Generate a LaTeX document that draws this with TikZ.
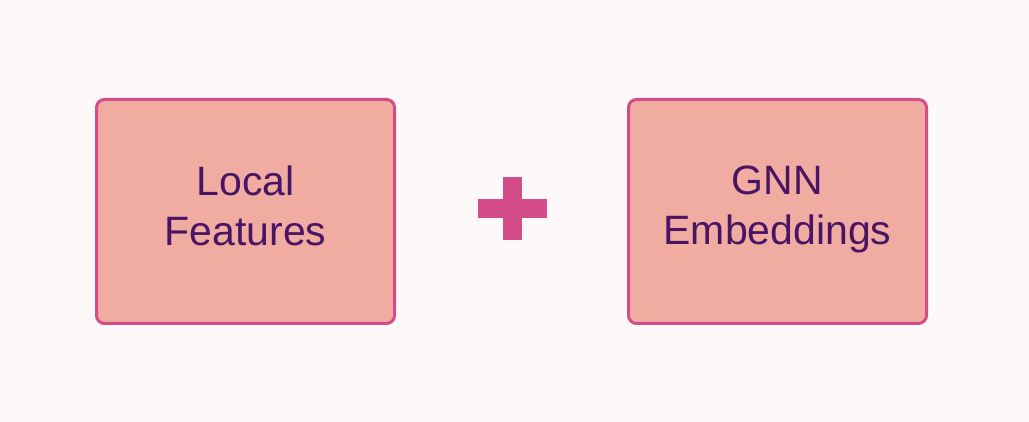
\documentclass[tikz,border=0pt]{standalone}
\usepackage{fontspec}
\setmainfont{Liberation Sans}
\usetikzlibrary{positioning}

\definecolor{bgcol}{HTML}{FDF9F8}
\definecolor{boxfill}{HTML}{F0ACA0}
\definecolor{boxline}{HTML}{D44C8A}
\definecolor{txtcol}{HTML}{4A1464}

\begin{document}
\begin{tikzpicture}[x=1pt, y=1pt, box/.style={draw=boxline, fill=boxfill, line width=3pt, rounded corners=8pt, minimum width=298pt, minimum height=224pt}, lbl/.style={align=center, text=txtcol, text depth=0pt, font=\fontsize{41}{50}\selectfont}]

	\fill[bgcol]	(0, 0)	rectangle	(1029, 422);
	\useasboundingbox	(0, 0)	rectangle	(1029, 422);

	\node[box]	(local)	at	(245.5, 210.5)	{};
	\node[box]	(gnn)	at	(777.5, 210.5)	{};
	\node[lbl]	(localtxt)	at	([yshift=6pt]local)	{Local \\ Features};
	\node[lbl]	(gnntxt)	at	([yshift=6pt]gnn)	{GNN \\ Embeddings};

	\coordinate	(plus)	at	(512.5, 213.5);
	\fill[boxline]	([shift={(-34.5, -9.5)}]plus)	rectangle	([shift={(34.5, 9.5)}]plus);
	\fill[boxline]	([shift={(-9.5, -31.5)}]plus)	rectangle	([shift={(9.5, 31.5)}]plus);

\end{tikzpicture}
\end{document}
